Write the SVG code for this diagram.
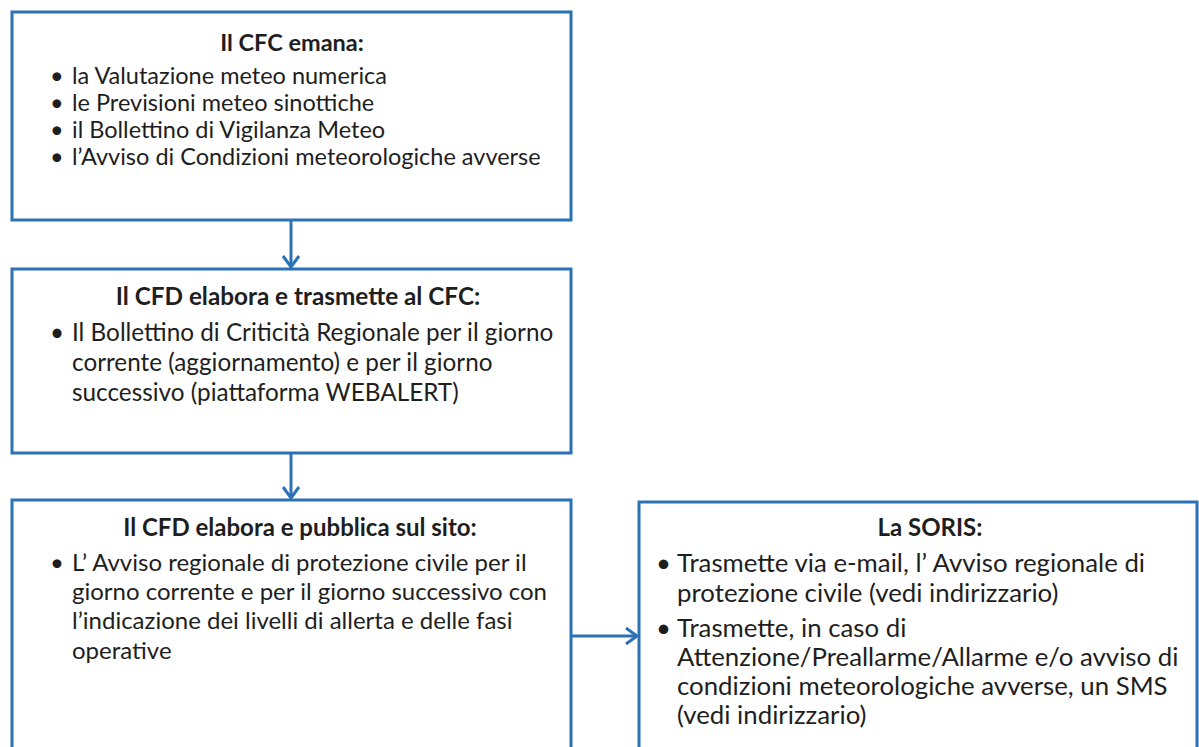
<svg xmlns="http://www.w3.org/2000/svg" width="1199" height="747" viewBox="0 0 1199 747">
<style>
.box{fill:#fff;stroke:#2a72b5;stroke-width:3}
.t{font-family:Lato,"Open Sans","Liberation Sans",sans-serif;font-size:24px;fill:#1e1e1e}
.s{font-size:23.5px}
.m{font-size:24.3px}
.l{font-size:25.8px}
.b{font-weight:bold;text-anchor:middle}
.c{fill:none;stroke:#2a72b5;stroke-width:3}
.h{fill:none;stroke:#2a72b5;stroke-width:3;stroke-linejoin:miter}
</style>
<rect width="1199" height="747" fill="#fff"/>
<g id="n1">
<rect class="box" x="12" y="12" width="559" height="208"/>
<text class="t s b" x="292" y="51">Il CFC emana:</text>
<text class="t s" x="50" y="84">•</text><text class="t s" x="72" y="84">la Valutazione meteo numerica</text>
<text class="t s" x="50" y="111">•</text><text class="t s" x="72" y="111">le Previsioni meteo sinottiche</text>
<text class="t s" x="50" y="138">•</text><text class="t s" x="72" y="138">il Bollettino di Vigilanza Meteo</text>
<text class="t s" x="50" y="165">•</text><text class="t s" x="72" y="165">l’Avviso di Condizioni meteorologiche avverse</text>
</g>
<g id="n2">
<rect class="box" x="12" y="269" width="559" height="184"/>
<text class="t m b" x="298" y="305">Il CFD elabora e trasmette al CFC:</text>
<text class="t m" x="50" y="341">•</text><text class="t m" x="72" y="341">Il Bollettino di Criticità Regionale per il giorno</text>
<text class="t m" x="72" y="371">corrente (aggiornamento) e per il giorno</text>
<text class="t m" x="72" y="401">successivo (piattaforma WEBALERT)</text>
</g>
<g id="n3">
<rect class="box" x="12" y="500" width="559" height="270"/>
<text class="t b" x="300" y="536">Il CFD elabora e pubblica sul sito:</text>
<text class="t" x="50" y="571">•</text><text class="t" x="72" y="571">L’ Avviso regionale di protezione civile per il</text>
<text class="t" x="72" y="600">giorno corrente e per il giorno successivo con</text>
<text class="t" x="72" y="629">l’indicazione dei livelli di allerta e delle fasi</text>
<text class="t" x="72" y="659">operative</text>
</g>
<g id="n4">
<rect class="box" x="639" y="502" width="558" height="270"/>
<text class="t b" x="930" y="536">La SORIS:</text>
<text class="t l" x="656" y="572">•</text><text class="t l" x="677" y="572">Trasmette via e-mail, l’ Avviso regionale di</text>
<text class="t l" x="677" y="602">protezione civile (vedi indirizzario)</text>
<text class="t l" x="656" y="637">•</text><text class="t l" x="677" y="637">Trasmette, in caso di</text>
<text class="t l" x="677" y="666">Attenzione/Preallarme/Allarme e/o avviso di</text>
<text class="t l" x="677" y="695">condizioni meteorologiche avverse, un SMS</text>
<text class="t l" x="677" y="724">(vedi indirizzario)</text>
</g>
<g id="connectors">
<line class="c" x1="291" y1="220" x2="291" y2="267"/>
<polyline class="h" points="283,256 291,267 299,256"/>
<line class="c" x1="291" y1="453" x2="291" y2="498"/>
<polyline class="h" points="283,487 291,498 299,487"/>
<line class="c" x1="571" y1="636" x2="637" y2="636"/>
<polyline class="h" points="626,628 637,636 626,644"/>
</g>
</svg>
